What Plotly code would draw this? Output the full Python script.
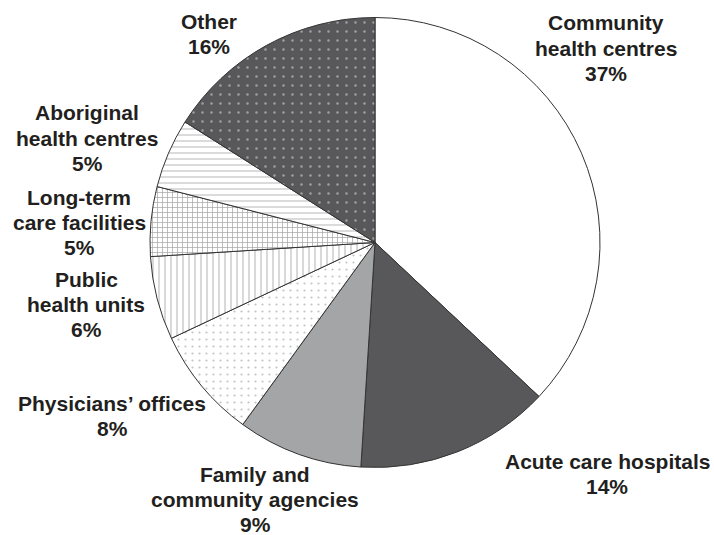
import plotly.graph_objects as go

categories = ["Community health centres", "Acute care hospitals", "Family and community agencies",
              "Physicians’ offices", "Public health units", "Long-term care facilities",
              "Aboriginal health centres", "Other"]
values = [37, 14, 9, 8, 6, 5, 5, 16]
label_lines = [["Community", "health centres"], ["Acute care hospitals"], ["Family and", "community agencies"],
               ["Physicians’ offices"], ["Public", "health units"], ["Long-term", "care facilities"],
               ["Aboriginal", "health centres"], ["Other"]]

# styles
bg_colors = ["#ffffff", "#58585a", "#a4a5a7", "#ffffff", "#ffffff", "#ffffff", "#ffffff", "#58585a"]
shapes = ["", "", "", ".", "|", "+", "-", "."]
fg_colors = ["#000", "#000", "#000", "#8a8a8a", "#8a8a8a", "#555555", "#b0b0b0", "#e8e8e8"]
pat_sizes = [8, 8, 8, 7, 6, 5, 6, 9]
solidity = [0.3, 0.3, 0.3, 0.08, 0.22, 0.28, 0.3, 0.06]
# label anchors: center x and first-line y (pixels from top-left)
label_px = [(606, 23), (607, 461), (255, 474), (112, 403), (86, 279), (79, 197), (87, 113), (209, 21)]
LINE_H = 25.3
FONT_SIZE = 21

W, H = 714, 535

fig = go.Figure(go.Pie(
    labels=categories,
    values=values,
    sort=False,
    direction="clockwise",
    rotation=0,
    textinfo="none",
    hoverinfo="label+percent",
    marker=dict(
        colors=bg_colors,
        line=dict(color="#333333", width=1),
        pattern=dict(shape=shapes, fgcolor=fg_colors, bgcolor=bg_colors,
                     size=pat_sizes, solidity=solidity, fillmode="overlay"),
    ),
    domain=dict(x=[150 / W, 600 / W], y=[(H - 468) / H, (H - 17) / H]),
    showlegend=False,
))

total = sum(values)
for lines, v, (px, py) in zip(label_lines, values, label_px):
    all_lines = lines + [f"{round(100 * v / total)}%"]
    for i, ln in enumerate(all_lines):
        fig.add_annotation(
            x=px / W, y=1 - (py + i * LINE_H) / H, xref="paper", yref="paper",
            text=ln, showarrow=False, xanchor="center", yanchor="middle", align="center",
            font=dict(family="Liberation Sans, Arial, sans-serif", size=FONT_SIZE,
                      color="#231f20", weight="bold"),
        )

fig.update_layout(
    width=W, height=H,
    margin=dict(l=0, r=0, t=0, b=0),
    paper_bgcolor="white", plot_bgcolor="white",
    font=dict(family="Liberation Sans, Arial, sans-serif", size=FONT_SIZE, color="#231f20"),
)

fig.write_html("out.html")
